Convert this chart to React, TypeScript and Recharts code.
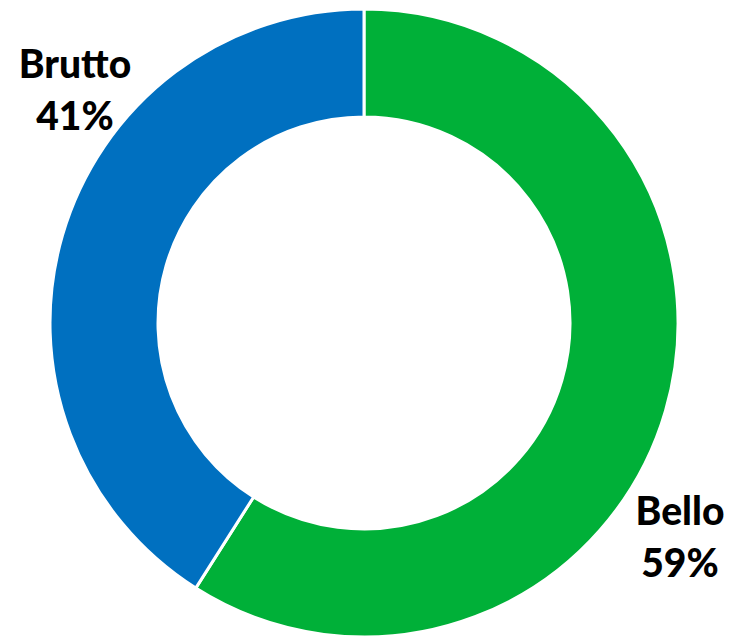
import { PieChart, Pie, Cell } from 'recharts';

const categories = ['Bello', 'Brutto'];
const shares = [59, 41];
const colors = ['#00B038', '#0070C0'];

const data = categories.map((name, i) => ({ name, value: shares[i] }));

// label anchors relative to the pie centre (first-line baseline)
const labelOffsets = [
  { dx: 316, dy: 202 },
  { dx: -289, dy: -245 },
];

const renderLabel = (props: any) => {
  const { cx, cy, index } = props;
  const o = labelOffsets[index];
  const d = data[index];
  return (
    <text
      x={cx + o.dx} y={cy + o.dy} textAnchor="middle"
      fontFamily="Lato, 'Open Sans', sans-serif" fontWeight={900}
      fontSize={39} fill="#000"
    >
      <tspan x={cx + o.dx}>{d.name}</tspan>
      <tspan x={cx + o.dx} dy={52}>{d.value}%</tspan>
    </text>
  );
};

export default function App() {
  return (
    <div style={{ position: 'absolute', left: 0, top: 0, width: 729, height: 636, background: '#fff' }}>
      <PieChart width={729} height={636} margin={{ top: 0, right: 0, bottom: 0, left: 0 }}>
        <Pie
          data={data} dataKey="value" nameKey="name"
          cx={364} cy={323} innerRadius={206} outerRadius={314}
          startAngle={90} endAngle={-270}
          stroke="#fff" strokeWidth={3}
          label={renderLabel} labelLine={false}
          isAnimationActive={false}
        >
          {data.map((d, i) => <Cell key={d.name} fill={colors[i]} />)}
        </Pie>
      </PieChart>
    </div>
  );
}
